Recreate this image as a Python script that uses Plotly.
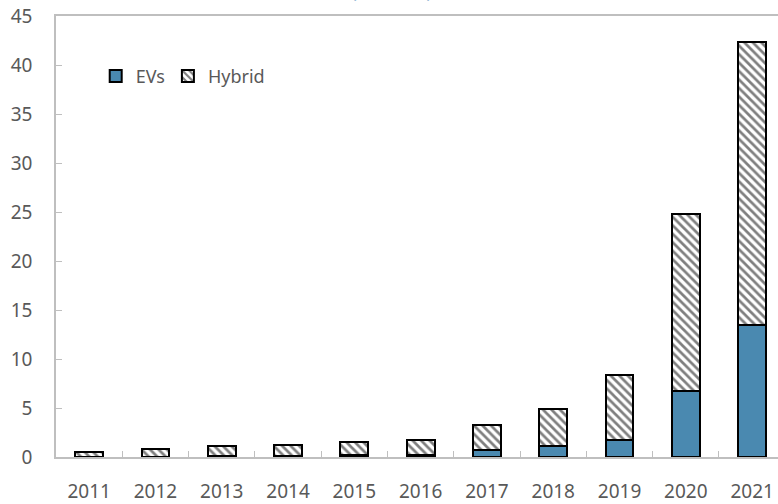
import plotly.graph_objects as go

years = ["2011", "2012", "2013", "2014", "2015", "2016", "2017", "2018", "2019", "2020", "2021"]
evs = [0.03, 0.05, 0.08, 0.15, 0.2, 0.25, 0.7, 1.1, 1.7, 6.7, 13.5]
hybrid = [0.47, 0.8, 1.02, 1.05, 1.3, 1.45, 2.55, 3.8, 6.7, 18.1, 28.8]
y_ticks = [0, 5, 10, 15, 20, 25, 30, 35, 40, 45]

grey = "#595959"
axis_grey = "#BFBFBF"

fig = go.Figure()
fig.add_trace(go.Bar(
    x=years, y=evs, name="EVs", legend="legend",
    marker=dict(color="#4A89B0", line=dict(color="black", width=2)),
))
fig.add_trace(go.Bar(
    x=years, y=hybrid, name="Hybrid", legend="legend2",
    marker=dict(color="white", line=dict(color="black", width=2),
                pattern=dict(shape="\\", fgcolor="black", bgcolor="white",
                             size=6, solidity=0.45)),
))

leg_common = dict(orientation="h", yanchor="top", xanchor="left", y=0.905,
                  font=dict(size=18, color=grey), bgcolor="rgba(0,0,0,0)",
                  itemwidth=30)

fig.update_layout(
    barmode="stack",
    bargap=0.58,
    width=778, height=504,
    margin=dict(l=56, r=0, t=16, b=45),
    plot_bgcolor="white",
    paper_bgcolor="white",
    font=dict(family="Noto Sans, Open Sans, sans-serif", color=grey, size=19),
    legend=dict(x=0.055, **leg_common),
    legend2=dict(x=0.155, **leg_common),
    showlegend=True,
)
fig.update_xaxes(
    range=[-0.5, 10.39],
    showline=True, linecolor=axis_grey, linewidth=1.5, mirror=True,
    ticks="inside", tickson="boundaries", ticklen=6, tickcolor=axis_grey,
    showgrid=False, tickfont=dict(size=19, color=grey),
    ticklabelstandoff=16,
)
fig.update_yaxes(
    range=[0, 45], tickvals=y_ticks,
    showline=True, linecolor=axis_grey, linewidth=1.5,
    ticks="inside", ticklen=6, tickcolor=axis_grey,
    showgrid=False, zeroline=False, tickfont=dict(size=19, color=grey),
    ticklabelstandoff=18,
)
fig.add_annotation(
    text="(millions)", xref="paper", yref="paper", x=0.464, y=1.06,
    xanchor="center", yanchor="middle", showarrow=False,
    font=dict(size=19, color="#2E75B6"),
)

fig.write_html("out.html")
